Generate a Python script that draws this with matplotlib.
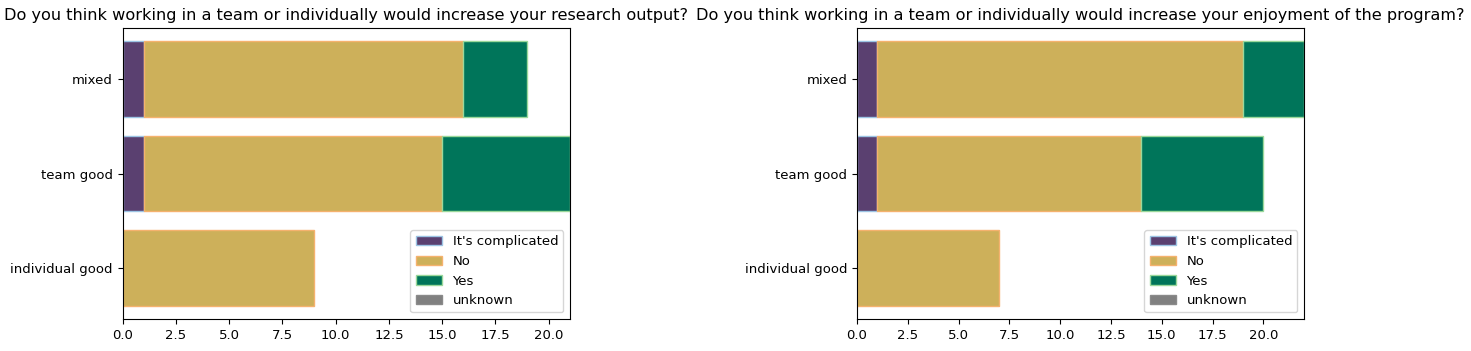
import numpy as np
import matplotlib
matplotlib.use("Agg")
import matplotlib.pyplot as plt
from matplotlib.patches import Patch

categories = ["individual good", "team good", "mixed"]
series = ["It's complicated", "No", "Yes", "unknown"]

research_complicated = [0, 1, 1]
research_no = [9, 14, 15]
research_yes = [0, 6, 3]
research_unknown = [0, 0, 0]

enjoy_complicated = [0, 1, 1]
enjoy_no = [7, 13, 18]
enjoy_yes = [0, 6, 3]
enjoy_unknown = [0, 0, 0]

titles = ["Do you think working in a team or individually would increase your research output?",
          "Do you think working in a team or individually would increase your enjoyment of the program?"]

face = ["#5a4070", "#cdb05a", "#00755a", "#808080"]
edge = ["#9cc4e4", "#f5b26e", "#9ad89a", "#8a8a8a"]

plt.rcParams["font.size"] = 9.5

fig = plt.figure(figsize=(14.71, 3.51), dpi=100)
ax1 = fig.add_axes([0.0833, 0.0912, 0.3042, 0.8288])
ax2 = fig.add_axes([0.5826, 0.0912, 0.3039, 0.8288])

data = [
    [research_complicated, research_no, research_yes, research_unknown],
    [enjoy_complicated, enjoy_no, enjoy_yes, enjoy_unknown],
]

y = np.arange(len(categories))
for ax, vals, title in zip([ax1, ax2], data, titles):
    left = np.zeros(len(categories))
    for i, (name, v, fc, ec) in enumerate(zip(series, vals, face, edge)):
        v = np.array(v, dtype=float)
        # zero-width segments after the first one are not drawn
        lw = np.where((v == 0) & (i > 0), 0, 1)
        ax.barh(y, v, left=left, height=0.8, color=fc, edgecolor=ec,
                linewidth=lw)
        left = left + v
    ax.set_yticks(y)
    ax.set_yticklabels(categories)
    ax.set_xlim(0, left.max())
    ax.set_title(title, fontsize=11.6)
    handles = [Patch(facecolor=fc, edgecolor=ec, linewidth=1, label=n)
               for n, fc, ec in zip(series, face, edge)]
    ax.legend(handles=handles, loc="lower right", fontsize=9.5)

fig.savefig("out.png", dpi=100)
